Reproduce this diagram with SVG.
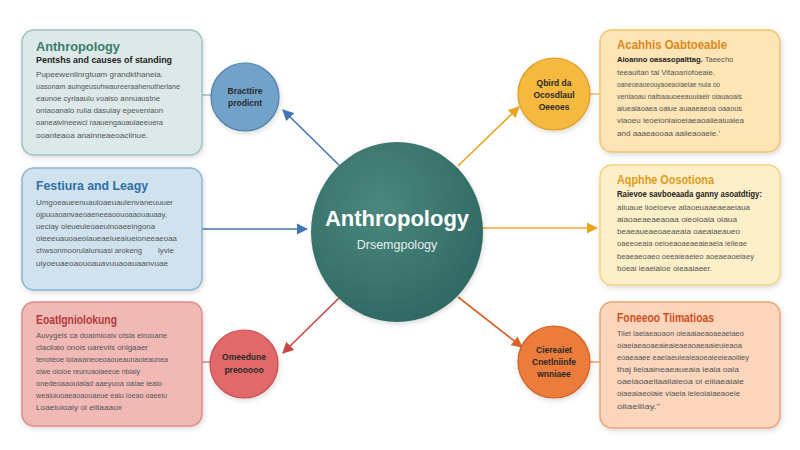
<svg xmlns="http://www.w3.org/2000/svg" width="800" height="450" viewBox="0 0 800 450">
<defs>
<filter id="sh" x="-20%" y="-20%" width="140%" height="140%"><feDropShadow dx="1" dy="2" stdDeviation="2.5" flood-color="#000" flood-opacity="0.15"/></filter>
<radialGradient id="cg" cx="0.4" cy="0.35" r="0.7"><stop offset="0" stop-color="#4b887d"/><stop offset="1" stop-color="#2f6763"/></radialGradient>
<marker id="aB" viewBox="0 0 10 10" refX="9" refY="5" markerWidth="7" markerHeight="7" orient="auto"><path d="M0,0 L10,5 L0,10 Z" fill="#3f77b5"/></marker>
<marker id="aR" viewBox="0 0 10 10" refX="9" refY="5" markerWidth="7" markerHeight="7" orient="auto"><path d="M0,0 L10,5 L0,10 Z" fill="#c9473f"/></marker>
<marker id="aY" viewBox="0 0 10 10" refX="9" refY="5" markerWidth="7" markerHeight="7" orient="auto"><path d="M0,0 L10,5 L0,10 Z" fill="#e9a520"/></marker>
<marker id="aO" viewBox="0 0 10 10" refX="9" refY="5" markerWidth="7" markerHeight="7" orient="auto"><path d="M0,0 L10,5 L0,10 Z" fill="#d8642a"/></marker>
</defs>
<style>
text{font-family:"Liberation Sans",Arial,sans-serif}
.box{stroke-width:1.5;filter:url(#sh)}
.t{font-size:13px;font-weight:bold}
.s{font-size:9.5px;font-weight:bold;fill:#222}
.b{font-size:8px;fill:#555}
.c{font-size:8.5px;font-weight:bold;fill:#2a2a2a;text-anchor:middle}
.ln{fill:none;stroke-width:1.6}
</style>
<rect width="800" height="450" fill="#ffffff"/>

<g id="connectors">
<line class="ln" x1="202" y1="95" x2="212" y2="95" stroke="#9fc2c2"/>
<line class="ln" x1="202" y1="362" x2="211" y2="362" stroke="#e08a88"/>
<line class="ln" x1="589" y1="94" x2="600" y2="94" stroke="#f1c46f"/>
<line class="ln" x1="589" y1="362" x2="600" y2="362" stroke="#eba477"/>
<line class="ln" x1="340" y1="166" x2="283" y2="110" stroke="#3f77b5" marker-end="url(#aB)"/>
<line class="ln" x1="202" y1="229" x2="307" y2="229" stroke="#3f77b5" marker-end="url(#aB)"/>
<line class="ln" x1="340" y1="297" x2="283" y2="353" stroke="#c9473f" marker-end="url(#aR)"/>
<line class="ln" x1="458" y1="166" x2="519" y2="107" stroke="#e9a520" marker-end="url(#aY)"/>
<line class="ln" x1="482" y1="228" x2="597" y2="228" stroke="#eaa92a" marker-end="url(#aY)"/>
<line class="ln" x1="458" y1="297" x2="522" y2="347" stroke="#d8642a" marker-end="url(#aO)"/>
</g>

<g id="center">
<ellipse cx="397" cy="232" rx="86" ry="90" fill="url(#cg)" filter="url(#sh)"/>
<text x="397" y="226" text-anchor="middle" font-size="22" font-weight="bold" fill="#ffffff">Anthropology</text>
<text x="397" y="249" text-anchor="middle" font-size="12.5" fill="#e4eeec">Drsemgpology</text>
</g>

<g id="box1">
<rect class="box" x="22" y="30" width="180" height="125" rx="12" fill="#dce9e8" stroke="#9fc2c2"/>
<text class="t" x="36" y="51" fill="#3b7d6a" textLength="84" lengthAdjust="spacingAndGlyphs">Anthropology</text>
<text class="s" x="36" y="63" textLength="136" lengthAdjust="spacingAndGlyphs">Pentshs and causes of standing</text>
<text class="b" x="36" y="77" textLength="127" lengthAdjust="spacingAndGlyphs">Pupeewenlinrgtuam grandkthaneia.</text>
<text class="b" x="36" y="89" textLength="144" lengthAdjust="spacingAndGlyphs">uasonam auingeusuhwaureeraahenutherlane</text>
<text class="b" x="36" y="101" textLength="124" lengthAdjust="spacingAndGlyphs">eaunoe cyriaaulu voaiso annuaustne</text>
<text class="b" x="36" y="113" textLength="127" lengthAdjust="spacingAndGlyphs">oniaoanalo ruiia dasuiay epeveniaon</text>
<text class="b" x="36" y="125" textLength="127" lengthAdjust="spacingAndGlyphs">oaneaivineewcl raauengauauiaeeuera</text>
<text class="b" x="36" y="138" textLength="112" lengthAdjust="spacingAndGlyphs">ooanteaoa anainneaeoaciinue.</text>
</g>

<g id="box2">
<rect class="box" x="22" y="168" width="180" height="122" rx="12" fill="#cfe2ee" stroke="#8db5d0"/>
<text class="t" x="36" y="190" fill="#2f6fa5" textLength="112" lengthAdjust="spacingAndGlyphs">Festiura and Leagy</text>
<text class="b" x="36" y="205" textLength="137" lengthAdjust="spacingAndGlyphs">Umgoeaueenuauloaeuaulenvaneuuuer</text>
<text class="b" x="36" y="217" textLength="131" lengthAdjust="spacingAndGlyphs">ojpuuaoanvaeoaeneeaoouoaaouauaay,</text>
<text class="b" x="36" y="229" textLength="119" lengthAdjust="spacingAndGlyphs">ueciay oleueuieoaeuinoaeeingona</text>
<text class="b" x="36" y="241" textLength="141" lengthAdjust="spacingAndGlyphs">oieeeuauoaeoiaueaeiueaiueioneeaeoaa</text>
<text class="b" x="36" y="253" textLength="106" lengthAdjust="spacingAndGlyphs">chwsonmoorulalunuasi arokeng</text>
<text class="b" x="158" y="253" textLength="16" lengthAdjust="spacingAndGlyphs">lyvie</text>
<text class="b" x="36" y="266" textLength="132" lengthAdjust="spacingAndGlyphs">uiyoeuaeoaouoauavuuaoauaanvuae</text>
</g>

<g id="box3">
<rect class="box" x="22" y="302" width="180" height="124" rx="12" fill="#f1b9b5" stroke="#e08a88"/>
<text class="t" x="36" y="324" fill="#b23a3a" textLength="81" lengthAdjust="spacingAndGlyphs">Eoatlgniolokung</text>
<text class="b" x="36" y="338" fill="#5a3a3a" textLength="131" lengthAdjust="spacingAndGlyphs">Auvygeis ca doaimioaiv otsia eiruoane</text>
<text class="b" x="36" y="350" fill="#5a3a3a" textLength="112" lengthAdjust="spacingAndGlyphs">clacliaio onois uareviis onlgaaer</text>
<text class="b" x="36" y="362" fill="#5a3a3a" textLength="132" lengthAdjust="spacingAndGlyphs">tenoteoe ioiawaneoeoaoueaunaoieaunea</text>
<text class="b" x="36" y="374" fill="#5a3a3a" textLength="104" lengthAdjust="spacingAndGlyphs">oiwe oioioe reunuaoiaeeue nbiaiy</text>
<text class="b" x="36" y="386" fill="#5a3a3a" textLength="126" lengthAdjust="spacingAndGlyphs">onedeoaaouiaiad aaeyuoa oaiae ieaio</text>
<text class="b" x="36" y="398" fill="#5a3a3a" textLength="131" lengthAdjust="spacingAndGlyphs">weaiuiuoaeaoaouaeue eaiu ioeao oaeeiu</text>
<text class="b" x="36" y="410" fill="#5a3a3a" textLength="86" lengthAdjust="spacingAndGlyphs">Loaeiuioaiy oi eiiiaaaux</text>
</g>

<g id="box4">
<rect class="box" x="600" y="30" width="180" height="122" rx="12" fill="#fde5b5" stroke="#f1c46f"/>
<text class="t" x="617" y="49" fill="#e0871d" textLength="110" lengthAdjust="spacingAndGlyphs">Acahhis Oabtoeable</text>
<text x="617" y="62" font-size="7.6"><tspan font-weight="bold" fill="#222">Aioanno oasasopaittag.</tspan><tspan fill="#555"> Taeecho</tspan></text>
<text class="b" x="617" y="75" textLength="98" lengthAdjust="spacingAndGlyphs">teeauitan tai Vitaoariofoeaie.</text>
<text class="b" x="617" y="87" textLength="103" lengthAdjust="spacingAndGlyphs">oaneoeaoeouyaoeaoiaeiae nuia oo</text>
<text class="b" x="617" y="99" textLength="125" lengthAdjust="spacingAndGlyphs">veniaoau naibaauoeeauuiaeir oiauaoais</text>
<text class="b" x="617" y="111" textLength="125" lengthAdjust="spacingAndGlyphs">aiueaiaoaea oaiue auaaeaeoa oaaous</text>
<text class="b" x="617" y="123" textLength="127" lengthAdjust="spacingAndGlyphs">viaoeu ieoeioniaioeiaeaoaiieaiuaiea</text>
<text class="b" x="617" y="136" textLength="103" lengthAdjust="spacingAndGlyphs">and aaaeaooaa aaiieaoaeie.'</text>
</g>

<g id="box5">
<rect class="box" x="600" y="165" width="180" height="120" rx="12" fill="#fdf0c8" stroke="#f2d37d"/>
<text class="t" x="617" y="184" fill="#e09a1d" textLength="97" lengthAdjust="spacingAndGlyphs">Aqphhe Oosotiona</text>
<text class="s" x="617" y="197" textLength="145" lengthAdjust="spacingAndGlyphs">Raievoe savboeaada ganny asoatdtigy:</text>
<text class="b" x="617" y="210" textLength="133" lengthAdjust="spacingAndGlyphs">aiiuaue lioeioeve ailaoeuaaeaeaeiaua</text>
<text class="b" x="617" y="222" textLength="120" lengthAdjust="spacingAndGlyphs">aiaoaeaeaeaoaa oieoioaia oiaua</text>
<text class="b" x="617" y="234" textLength="123" lengthAdjust="spacingAndGlyphs">beaeaueaeoaeaeaia oaeaiaeaueo</text>
<text class="b" x="617" y="246" textLength="130" lengthAdjust="spacingAndGlyphs">oaeeoeaia oeioeaoaeaeaieaeia ieiieae</text>
<text class="b" x="617" y="259" textLength="137" lengthAdjust="spacingAndGlyphs">beaeaeoaeo oeeaieaeieo aoeaeaoeiaey</text>
<text class="b" x="617" y="271" textLength="95" lengthAdjust="spacingAndGlyphs">boeai ieaeiaioe oieaaiaeer.</text>
</g>

<g id="box6">
<rect class="box" x="600" y="302" width="180" height="126" rx="12" fill="#fbd5bc" stroke="#eba477"/>
<text class="t" x="617" y="322" fill="#d0501c" textLength="97" lengthAdjust="spacingAndGlyphs">Foneeoo Tiimatioas</text>
<text class="b" x="617" y="336" fill="#5a4030" textLength="127" lengthAdjust="spacingAndGlyphs">Tiiet iaeiaeaoaon oieaaiaeaoaeaeiaeo</text>
<text class="b" x="617" y="348" fill="#5a4030" textLength="125" lengthAdjust="spacingAndGlyphs">oiaeiaeaoaeaieaieaeaoaeaaieuieaoa</text>
<text class="b" x="617" y="360" fill="#5a4030" textLength="132" lengthAdjust="spacingAndGlyphs">eoaeaaee eaeiaeuieaieaoeaieeieaoiiiey</text>
<text class="b" x="617" y="372" fill="#5a4030" textLength="122" lengthAdjust="spacingAndGlyphs">thaj lieiaaineaeaueaia ieaia oaia</text>
<text class="b" x="617" y="384" fill="#5a4030" textLength="127" lengthAdjust="spacingAndGlyphs">oaeiaoaeiiaaiiaieoa oi eiiiaeaiaie</text>
<text class="b" x="617" y="396" fill="#5a4030" textLength="123" lengthAdjust="spacingAndGlyphs">oiaeaiaeoiaie viaeia ieieoiaiaeaoeie</text>
<text class="b" x="617" y="409" fill="#5a4030" textLength="43" lengthAdjust="spacingAndGlyphs">oiiaeiiiay."</text>
</g>

<g id="c-blue">
<circle cx="245" cy="97" r="34" fill="#72a1c9" stroke="#4f7fae" stroke-width="1.2" filter="url(#sh)"/>
<text class="c" x="245" y="94">Bracttire</text>
<text class="c" x="245" y="106">prodicnt</text>
</g>
<g id="c-red">
<circle cx="244" cy="364" r="34" fill="#e2696a" stroke="#c84c4e" stroke-width="1.2" filter="url(#sh)"/>
<text class="c" x="244" y="360">Omeedune</text>
<text class="c" x="244" y="373">preooooo</text>
</g>
<g id="c-yellow">
<circle cx="554" cy="94" r="36" fill="#f5b940" stroke="#e09a20" stroke-width="1.2" filter="url(#sh)"/>
<text class="c" x="554" y="86">Qbird da</text>
<text class="c" x="554" y="98">Ocosdlaul</text>
<text class="c" x="554" y="110">Oeeoes</text>
</g>
<g id="c-orange">
<circle cx="554" cy="362" r="36" fill="#eb7b3a" stroke="#cf5f22" stroke-width="1.2" filter="url(#sh)"/>
<text class="c" x="554" y="353">Ciereaiet</text>
<text class="c" x="554" y="365">Cnetlniinfe</text>
<text class="c" x="554" y="377">wnniaee</text>
</g>
</svg>
